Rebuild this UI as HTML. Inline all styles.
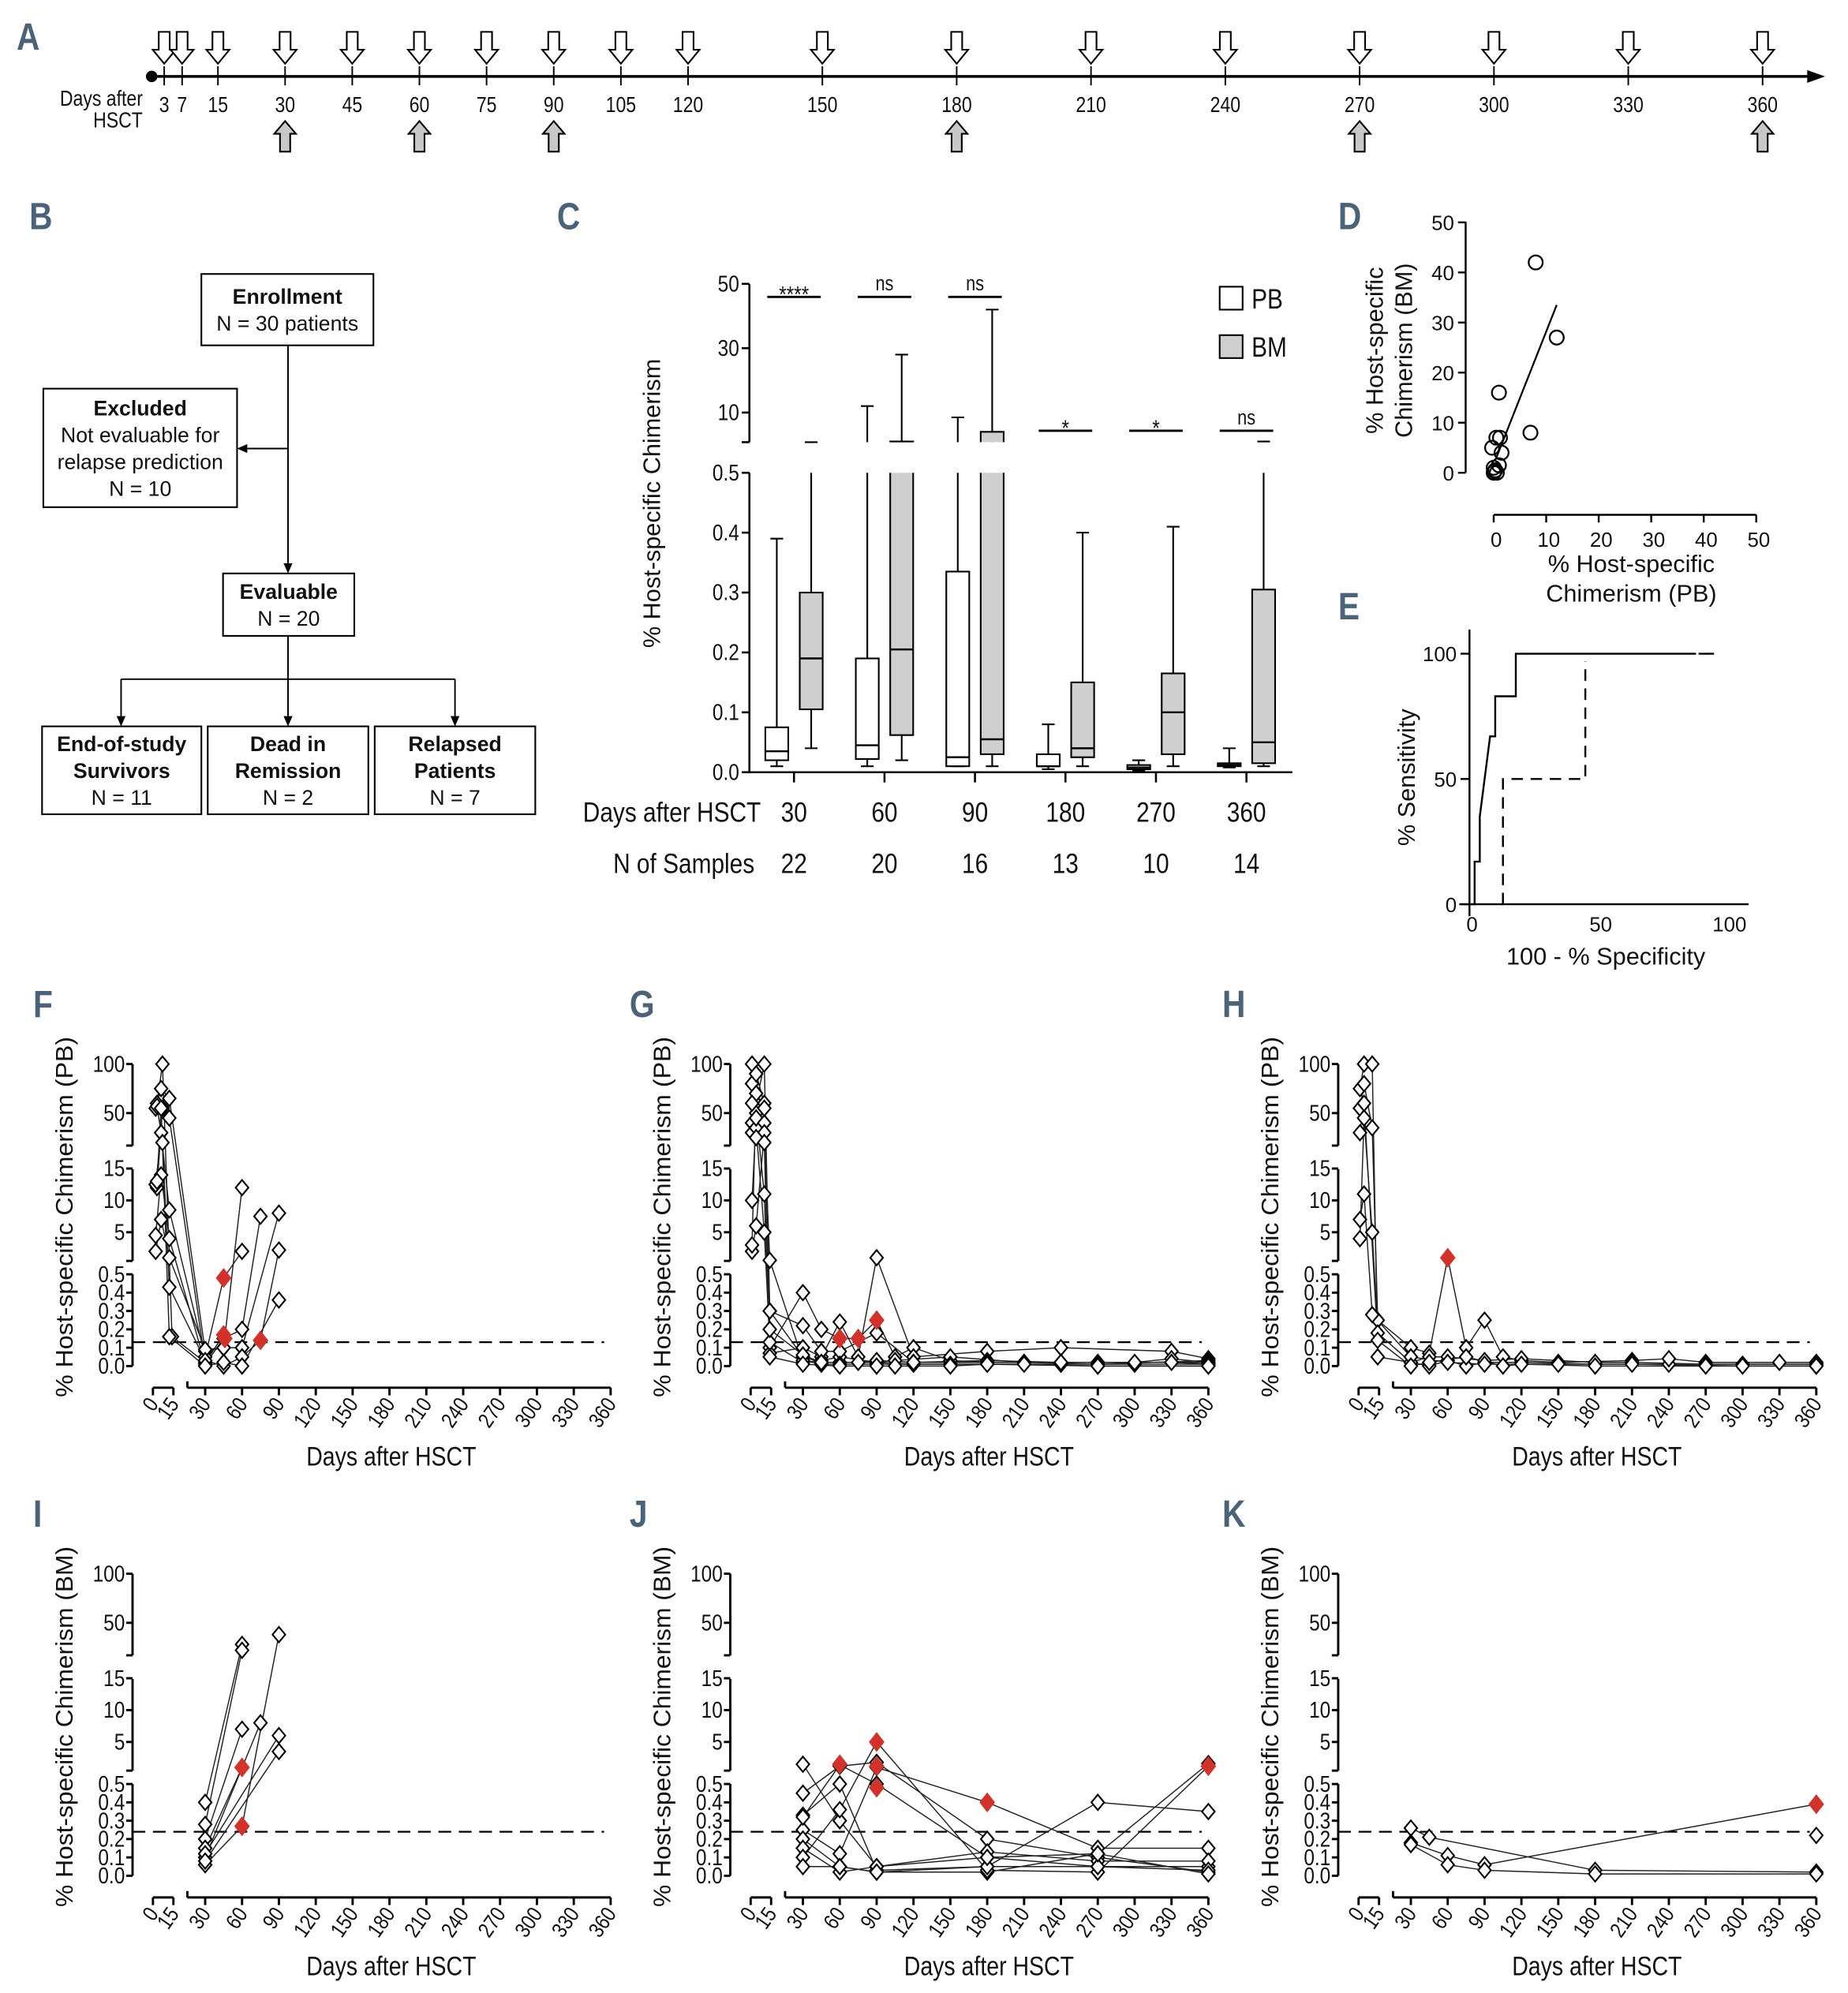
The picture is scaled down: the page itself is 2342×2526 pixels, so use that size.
<!DOCTYPE html>
<html><head><meta charset="utf-8">
<style>
html,body{margin:0;padding:0;background:#fff;}
svg{display:block;}
text{font-family:"Liberation Sans",sans-serif;fill:#111;}
.let{font-weight:bold;fill:#4a6378;font-size:30px;}
</style></head>
<body>
<svg id="fig" width="2342" height="2526" viewBox="0 0 1450 1564" preserveAspectRatio="none" xmlns="http://www.w3.org/2000/svg">
<g id="gA"></g>
<g id="gB"></g>
<g id="gC"></g>
<g id="gD"></g>
<g id="gE"></g>
<g id="gFK"></g>
</svg>
<script>
// ---------- DATA ----------
const timelineDays=[3,7,15,30,45,60,75,90,105,120,150,180,210,240,270,300,330,360];
const bmDays=[30,60,90,180,270,360];
const cGroups=["30","60","90","180","270","360"];
const cSamples=["22","20","16","13","10","14"];
const cSig=["****","ns","ns","*","*","ns"];
const pbMin=[0.01,0.01,0.01,0.005,0.003,0.008];
const pbQ1=[0.02,0.022,0.01,0.01,0.005,0.01];
const pbMed=[0.035,0.045,0.025,0.01,0.008,0.012];
const pbQ3=[0.075,0.19,0.335,0.03,0.012,0.015];
const pbMax=[0.39,12,8.5,0.08,0.02,0.04];
const bmMin=[0.04,0.02,0.01,0.01,0.01,0.01];
const bmQ1=[0.105,0.062,0.03,0.025,0.03,0.015];
const bmMed=[0.19,0.205,0.055,0.04,0.10,0.05];
const bmQ3=[0.30,1,4,0.15,0.165,0.305];
const bmMax=[0.6,28,42,0.40,0.41,1];
const dPB=[8,12,1,7,0.5,1.2,-0.3,1.5,0,0.3,0.6,1,0,0.2];
const dBM=[42,27,16,8,7,7,5,4,1,0.5,0,1.5,0,0.3];
const dFit=[[0.5,3],[12,33.5]];
const rocSolidX=[0,2,2,4,4,8,10,10,18,18,88];
const rocSolidY=[0,0,17,17,35,67,67,83,83,100,100];
const rocDashX=[13,13,45,45];
const rocDashY=[0,50,50,97];
const yTickUpper=[100,50];
const yTickMid=[15,10,5];
const yTickLow=[0.5,0.4,0.3,0.2,0.1,0.0];
const xTickDays=[0,15,30,60,90,120,150,180,210,240,270,300,330,360];
const fSeries=[
 [[3,60],[7,100],[14,0.16],[30,0.02]],
 [[2,55],[6,75],[12,65],[30,0.08],[45,0.1],[60,12]],
 [[3,12],[7,55],[12,45],[30,0.02],[45,0.17]],
 [[2,12.5],[6,30],[12,8.5],[30,0.05],[45,0.48],[60,2]],
 [[2,4.5],[6,14],[12,4],[30,0.01],[45,0.15],[60,0.2],[75,7.5]],
 [[2,2],[6,7],[12,1],[30,0.09],[45,0.1],[60,0.1],[90,8]],
 [[3,57],[7,20],[12,0.43],[30,0.03],[45,0.0],[60,0.05],[75,0.14],[90,2.2]],
 [[3,13],[6,55],[12,0.16],[30,0.0],[45,0.02],[60,0.0],[90,0.36]]];
const fRed=[[45,0.48],[45,0.17],[46,0.15],[75,0.14]];
const gSeries=[
 [[1,100],[4,60],[10,100],[14,0.3],[30,0.05],[45,0.02],[60,0.02],[90,0.02],[120,0.01],[180,0.01],[240,0.01],[300,0.01],[360,0.01]],
 [[1,80],[4,90],[10,60],[14,0.1],[30,0.4],[45,0.2],[60,0.15],[75,0.15],[90,0.25],[105,0.05],[120,0.1],[150,0.03],[180,0.02],[210,0.02],[270,0.02],[360,0.02]],
 [[1,40],[4,50],[10,11],[14,0.07],[30,0.1],[45,0.05],[60,0.24],[75,0.05],[90,1],[120,0.05],[180,0.08],[240,0.1],[330,0.08],[360,0.04]],
 [[1,30],[4,35],[10,5],[14,0.13],[30,0.02],[45,0.03],[60,0.05],[90,0.02],[105,0.03],[150,0.05],[210,0.02],[270,0.01],[360,0.03]],
 [[1,10],[4,45],[10,40],[14,0.3],[30,0.22],[45,0.08],[60,0.08],[90,0.18],[120,0.02],[180,0.03],[240,0.02],[300,0.02],[330,0.04],[360,0.02]],
 [[1,2],[4,6],[10,30],[14,0.6],[30,0.03],[45,0.01],[60,0.01],[90,0.01],[150,0.01],[210,0.01],[270,0.0],[360,0.0]],
 [[1,3],[4,70],[10,55],[14,0.2],[30,0.06],[45,0.02],[75,0.02],[90,0.03],[120,0.02],[180,0.02],[240,0.02],[330,0.02],[360,0.01]],
 [[1,60],[4,25],[10,20],[14,0.05],[30,0.01],[60,0.0],[90,0.0],[105,0.0],[150,0.0],[180,0.01],[270,0.0],[360,0.0]]];
const gRed=[[60,0.15],[75,0.15],[90,0.25]];
const hSeries=[
 [[1,75],[4,100],[10,100],[14,0.05],[30,0.02],[45,0.0],[60,0.03],[75,0.0],[90,0.02],[120,0.02],[180,0.01],[240,0.01],[300,0.01],[360,0.01]],
 [[1,55],[4,80],[10,35],[14,0.25],[30,0.1],[45,0.07],[60,1],[75,0.1],[90,0.25],[105,0.05],[120,0.03],[150,0.02],[210,0.03],[240,0.04],[270,0.02],[330,0.02],[360,0.02]],
 [[1,4],[4,45],[10,5],[14,0.18],[30,0.02],[45,0.05],[60,0.05],[90,0.03],[120,0.04],[180,0.02],[210,0.02],[270,0.01],[360,0.01]],
 [[1,7],[4,11],[10,0.28],[30,0.05],[60,0.02],[90,0.01],[150,0.01],[210,0.01],[300,0.0],[360,0.0]],
 [[1,30],[4,60],[14,0.14],[30,0.0],[45,0.02],[75,0.05],[105,0.0],[120,0.01],[180,0.0],[270,0.0],[360,0.0]]];
const hRed=[[60,1]];
const iSeries=[
 [[30,0.4],[60,28]],[[30,0.28],[60,22]],[[30,0.2],[60,7]],[[30,0.15],[60,1]],
 [[30,0.1],[75,8]],[[30,0.06],[60,0.27],[90,38]],[[30,0.12],[90,6]],[[30,0.08],[90,3.5]]];
const iRed=[[60,1],[60,0.27]];
const jSeries=[
 [[30,1.5],[60,0.3],[90,0.05],[180,0.1],[270,0.05],[360,0.05]],
 [[30,0.45],[60,1.2],[90,1.8],[180,0.2],[270,0.1],[360,0.02]],
 [[30,0.33],[60,0.5],[90,0.03],[180,0.05],[270,0.4],[360,0.35]],
 [[30,0.25],[60,0.12],[90,1],[180,0.4],[270,0.15],[360,0.15]],
 [[30,0.2],[60,0.05],[90,0.02],[180,0.02],[270,0.12],[360,1.6]],
 [[30,0.15],[60,0.02],[90,0.05],[180,0.13],[270,0.08],[360,0.08]],
 [[30,0.1],[60,0.36],[90,5],[180,0.03],[270,0.02],[360,1.2]],
 [[30,0.05],[60,0.05],[90,0.02],[180,0.05],[270,0.05],[360,0.03]],
 [[30,0.32],[60,1.4],[90,0.5],[180,0.1],[270,0.12],[360,0.01]]];
const jRed=[[60,1.5],[90,5],[90,1.2],[90,0.48],[180,0.4],[360,1.2]];
const kSeries=[
 [[30,0.26],[45,0.21],[180,0.03],[360,0.02]],
 [[30,0.18],[60,0.11],[90,0.06],[360,0.39]],
 [[30,0.17],[60,0.06],[90,0.03],[180,0.01],[360,0.01]],
 [[360,0.22]]];
const kRed=[[360,0.39]];

// ---------- HELPERS ----------
const NS="http://www.w3.org/2000/svg";
const NARROW=0.84;
function mk(parent,tag,attrs,txt){const e=document.createElementNS(NS,tag);for(const k in attrs)e.setAttribute(k,attrs[k]);if(txt!==undefined)e.textContent=txt;parent.appendChild(e);return e;}
function ln(p,x1,y1,x2,y2,w,dash){const e=mk(p,'line',{x1,y1,x2,y2,stroke:'#000','stroke-width':w||1.2});if(dash)e.setAttribute('stroke-dasharray',dash);return e;}
// cls 'w' = regular width; otherwise condensed via horizontal scale
function tx(p,x,y,s,size,anchor,cls,extra){
  const at=Object.assign({'font-size':size,'text-anchor':anchor||'middle'},extra||{});
  if(cls!=='w'){
    if(at.transform){at.transform=at.transform+` scale(${NARROW},1)`;at.x=0;at.y=0;}
    else{at.transform=`translate(${x},${y}) scale(${NARROW},1)`;at.x=0;at.y=0;}
  } else {at.x=x;at.y=y;}
  const e=mk(p,'text',at,s);
  if(cls&&cls!=='w')e.setAttribute('class',cls);
  return e;}
const svg=document.getElementById('fig');
function letter(s,x,y){const e=tx(svg,x,y,s,30,'start','let');return e;}

// ---------- A ----------
const gA=document.getElementById('gA');
const xA=d=>171+(d-15)*3.513;
letter('A',13,39);
ln(gA,119,60,1420,60,2.2);
mk(gA,'polygon',{points:'1418,55 1432,60 1418,65',fill:'#000'});
mk(gA,'circle',{cx:119,cy:60,r:4.5,fill:'#000'});
tx(gA,112,83,'Days after',17,'end');tx(gA,112,100,'HSCT',17,'end');
const grayA=[30,60,90,180,270,360];
timelineDays.forEach(d=>{
  const x=xA(d);
  ln(gA,x,52,x,67,1.2);
  tx(gA,x,88,String(d),17,'middle');
  const a=mk(gA,'polygon',{points:`${x-4.3},25 ${x+4.3},25 ${x+4.3},39 ${x+9},39 ${x},50 ${x-9},39 ${x-4.3},39`,fill:'#fff',stroke:'#000','stroke-width':1.3});
  
  
  if(grayA.indexOf(d)>=0){
    const b=mk(gA,'polygon',{points:`${x},95 ${x+8.5},105 ${x+4},105 ${x+4},119 ${x-4},119 ${x-4},105 ${x-8.5},105`,fill:'#c8c8c8',stroke:'#000','stroke-width':1.3});
    
    
  }
});

// ---------- B ----------
const gB=document.getElementById('gB');
letter('B',23,180);
function box(x,y,w,h,lines,boldN,name){
  const r=mk(gB,'rect',{x,y,width:w,height:h,fill:'#fff',stroke:'#000','stroke-width':1.3});
  
  const cx=x+w/2, n=lines.length, lh=21, y0=y+h/2-(n-1)*lh/2+6;
  lines.forEach((s,i)=>{const t=tx(gB,cx,y0+i*lh,s,16.5,'middle','w');if(i<boldN)t.setAttribute('font-weight','bold');});
}
function arrowDown(x,y){mk(gB,'polygon',{points:`${x-3.5},${y-8} ${x+3.5},${y-8} ${x},${y}`,fill:'#000'});}
box(158,215,135,56,['Enrollment','N = 30 patients'],1,'enrollment-box');
box(34,305,152,93,['Excluded','Not evaluable for','relapse prediction','N = 10'],1,'excluded-box');
box(175,450,103,49,['Evaluable','N = 20'],1,'evaluable-box');
box(33,570,125,69,['End-of-study','Survivors','N = 11'],2,'survivors-box');
box(163,570,126,69,['Dead in','Remission','N = 2'],2,'dead-box');
box(294,570,126,69,['Relapsed','Patients','N = 7'],2,'relapsed-box');
ln(gB,226,271,226,442,1.2);arrowDown(226,450);
ln(gB,226,352,194,352,1.2);mk(gB,'polygon',{points:'186,352 194,348.5 194,355.5',fill:'#000'});
ln(gB,226,499,226,533,1.2);ln(gB,95,533,357,533,1.2);
[95,226,357].forEach(x=>{ln(gB,x,533,x,562,1.2);arrowDown(x,570);});

// ---------- C ----------
const gC=document.getElementById('gC');
letter('C',437,180);
const cx0=588, cCenters=[623,694,765,836,907,978];
const yL=v=>606-v*470;
const yU=v=>Math.min(347,349-v*2.525);
ln(gC,cx0,223,cx0,347,1.6);ln(gC,cx0,371,cx0,606,1.6);ln(gC,cx0,606,1014,606,1.6);
[50,30,10].forEach(v=>{const y=349-v*2.525;ln(gC,cx0-6,y,cx0,y,1.6);tx(gC,cx0-8,y+6,String(v),18,'end');});
ln(gC,cx0-6,347,cx0,347,1.6);
[0.5,0.4,0.3,0.2,0.1,0.0].forEach(v=>{const y=yL(v);ln(gC,cx0-6,y,cx0,y,1.6);tx(gC,cx0-8,y+6,v.toFixed(1),18,'end');});
tx(gC,0,0,'% Host-specific Chimerism',19,'middle','w',{transform:'translate(518,395) rotate(-90)'});
function vline(x,a,b){
  const lo=Math.min(a,b),hi=Math.max(a,b);
  if(hi<=0.5){ln(gC,x,yL(lo),x,yL(hi),1.3);}
  else{ if(lo<=0.5) ln(gC,x,yL(lo),x,371,1.3); ln(gC,x,347,x,yU(Math.max(hi,lo)),1.3);}
}
function yv(v){return v<=0.5?yL(v):yU(v);}
function boxC(xc,mn,q1,md,q3,mx,fill,name){
  const hw=9;
  vline(xc,q3,mx);vline(xc,mn,q1);
  ln(gC,xc-5,yv(mx),xc+5,yv(mx),1.3);ln(gC,xc-5,yv(mn),xc+5,yv(mn),1.3);
  if(q3<=0.5){
    const r=mk(gC,'rect',{x:xc-hw,y:yL(q3),width:2*hw,height:yL(q1)-yL(q3),fill,stroke:'#000','stroke-width':1.3});
    
  } else {
    const r=mk(gC,'path',{d:`M${xc-hw},371 L${xc-hw},${yL(q1)} L${xc+hw},${yL(q1)} L${xc+hw},371`,fill,stroke:'#000','stroke-width':1.3});
    
    const r2=mk(gC,'path',{d:`M${xc-hw},347 L${xc-hw},${yU(q3)} L${xc+hw},${yU(q3)} L${xc+hw},347`,fill,stroke:'#000','stroke-width':1.3});
    
  }
  ln(gC,xc-hw,yv(md),xc+hw,yv(md),1.5);
}
cGroups.forEach((g,i)=>{
  const c=cCenters[i];
  ln(gC,c,606,c,614,1.6);
  boxC(c-13.5,pbMin[i],pbQ1[i],pbMed[i],pbQ3[i],pbMax[i],'#fff','pb-box-day'+g);
  boxC(c+13.5,bmMin[i],bmQ1[i],bmMed[i],bmQ3[i],bmMax[i],'#cfcfcf','bm-box-day'+g);
  tx(gC,c,645,g,22,'middle');
  tx(gC,c,685,cSamples[i],22,'middle');
  const ys=i<3?233:338;
  ln(gC,c-21,ys,c+21,ys,1.8);
  tx(gC,c,ys-(cSig[i]==='ns'?5:-4),cSig[i],cSig[i]==='ns'?16:18,'middle');
});
tx(gC,597,645,'Days after HSCT',22,'end');
tx(gC,592,685,'N of Samples',22,'end');
const lp=mk(gC,'rect',{x:957,y:225,width:18,height:18,fill:'#fff',stroke:'#000','stroke-width':1.3});
tx(gC,982,242,'PB',22,'start');
const lb=mk(gC,'rect',{x:957,y:263,width:18,height:18,fill:'#cfcfcf',stroke:'#000','stroke-width':1.3});
tx(gC,982,280,'BM',22,'start');

// ---------- D ----------
const gD=document.getElementById('gD');
letter('D',1050,180);
const xD=v=>1172+v*4.12, yD=v=>371-v*3.93;
ln(gD,1150,174,1150,371,1.5);ln(gD,1172,404,1378,404,1.5);
[0,10,20,30,40,50].forEach(v=>{ln(gD,1144,yD(v),1150,yD(v),1.5);tx(gD,1141,yD(v)+6,String(v),16,'end','w');
  ln(gD,xD(v),404,xD(v),410,1.5);tx(gD,xD(v)+2,429,String(v),16,'middle','w');});
dPB.forEach((v,i)=>{const c=mk(gD,'circle',{cx:xD(v),cy:yD(dBM[i]),r:5.5,fill:'none',stroke:'#000','stroke-width':1.4});});
ln(gD,xD(dFit[0][0]),yD(dFit[0][1]),xD(dFit[1][0]),yD(dFit[1][1]),1.4);
tx(gD,0,0,'% Host-specific',19,'middle','w',{transform:'translate(1085,275) rotate(-90)'});
tx(gD,0,0,'Chimerism (BM)',19,'middle','w',{transform:'translate(1108,275) rotate(-90)'});
tx(gD,1280,449,'% Host-specific',19,'middle','w');
tx(gD,1280,472,'Chimerism (PB)',19,'middle','w');

// ---------- E ----------
const gE=document.getElementById('gE');
letter('E',1050,486);
const xE=v=>1153+v*2.02, yE=v=>709.6-v*1.966;
ln(gE,1153,494,1153,719,1.5);ln(gE,1145,709.6,1372,709.6,1.5);
[0,50,100].forEach(v=>{ln(gE,1146,yE(v),1153,yE(v),1.5);tx(gE,1143,yE(v)+6,String(v),16,'end','w');
  tx(gE,xE(v)+2,731,String(v),16,'middle','w');});
mk(gE,'polyline',{points:rocSolidX.map((v,i)=>xE(v)+','+yE(rocSolidY[i])).join(' '),fill:'none',stroke:'#000','stroke-width':1.5});
ln(gE,xE(89),yE(100),xE(95),yE(100),1.5);
mk(gE,'polyline',{points:rocDashX.map((v,i)=>xE(v)+','+yE(rocDashY[i])).join(' '),fill:'none',stroke:'#000','stroke-width':1.5,'stroke-dasharray':'9,6'});
tx(gE,0,0,'% Sensitivity',19,'middle','w',{transform:'translate(1110,610) rotate(-90)'});
tx(gE,1260,757,'100 - % Specificity',19,'middle','w');

// ---------- F-K ----------
const gFK=document.getElementById('gFK');
function tcPanel(ox,oy,series,red,thr,ylab,L,lx,ly,name){
  const g=mk(gFK,'g',{});
  const X=d=>ox+(d<=15?120+d*1.07:161+(d-30)*0.964);
  const Y=v=>oy+(v<=0.5?1072-v*144:(v<=17?992-v*5:912-v*0.77));
  const ax=ox+104;
  letter(L,lx,ly);
  ln(g,ax,oy+835,ax,oy+899,1.8);ln(g,ax,oy+917.5,ax,oy+989.5,1.8);ln(g,ax,oy+1000,ax,oy+1072,1.8);
  ln(g,ax-5,oy+899,ax,oy+899,1.8);ln(g,ax-5,oy+989.5,ax,oy+989.5,1.8);
  yTickUpper.forEach(v=>{const y=Y(v);ln(g,ax-5,y,ax,y,1.8);tx(g,ax-6,y+6,String(v),18,'end');});
  yTickMid.forEach(v=>{const y=Y(v);ln(g,ax-5,y,ax,y,1.8);tx(g,ax-6,y+6,String(v),18,'end');});
  yTickLow.forEach(v=>{const y=Y(v);ln(g,ax-5,y,ax,y,1.8);tx(g,ax-6,y+6,v.toFixed(1),18,'end');});
  const xy=oy+1089;
  ln(g,X(0),xy,X(15),xy,1.8);ln(g,ox+147,xy,X(360),xy,1.8);
  ln(g,ox+147,xy-5,ox+147,xy,1.8);
  xTickDays.forEach(d=>{const x=X(d);ln(g,x,xy,x,xy+6,1.8);
    tx(g,0,0,String(d),17,'end','',{transform:`translate(${x+5},${xy+13}) rotate(-55)`});});
  tx(g,ox+307,oy+1150,'Days after HSCT',21,'middle');
  tx(g,0,0,ylab,19,'middle','w',{transform:`translate(${ox+57},${oy+955}) rotate(-90)`,textLength:283,lengthAdjust:'spacingAndGlyphs'});
  ln(g,ax,Y(thr),ox+474,Y(thr),1.4,'10,6');
  series.forEach(s=>{
    if(s.length>1){const p=mk(g,'polyline',{points:s.map(q=>X(q[0])+','+Y(q[1])).join(' '),fill:'none',stroke:'#222','stroke-width':0.9});}
  });
  series.forEach(s=>s.forEach(q=>{const x=X(q[0]),y=Y(q[1]);
    const m=mk(g,'polygon',{points:`${x},${y-6} ${x+5},${y} ${x},${y+6} ${x-5},${y}`,fill:'#fff',stroke:'#000','stroke-width':1.3});
    }));
  red.forEach(q=>{const x=X(q[0]),y=Y(q[1]);
    const m=mk(g,'polygon',{points:`${x},${y-7} ${x+5.5},${y} ${x},${y+7} ${x-5.5},${y}`,fill:'#d2322a',stroke:'#d2322a','stroke-width':1});
    });
}
const PB='% Host-specific Chimerism (PB)', BM='% Host-specific Chimerism (BM)';
tcPanel(0,0,fSeries,fRed,0.13,PB,'F',26,798,'panel-f');
tcPanel(469,0,gSeries,gRed,0.13,PB,'G',494,798,'panel-g');
tcPanel(946,0,hSeries,hRed,0.13,PB,'H',959,798,'panel-h');
tcPanel(0,400,iSeries,iRed,0.24,BM,'I',26,1198,'panel-i');
tcPanel(469,400,jSeries,jRed,0.24,BM,'J',494,1198,'panel-j');
tcPanel(946,400,kSeries,kRed,0.24,BM,'K',959,1198,'panel-k');
</script>
</body></html>
